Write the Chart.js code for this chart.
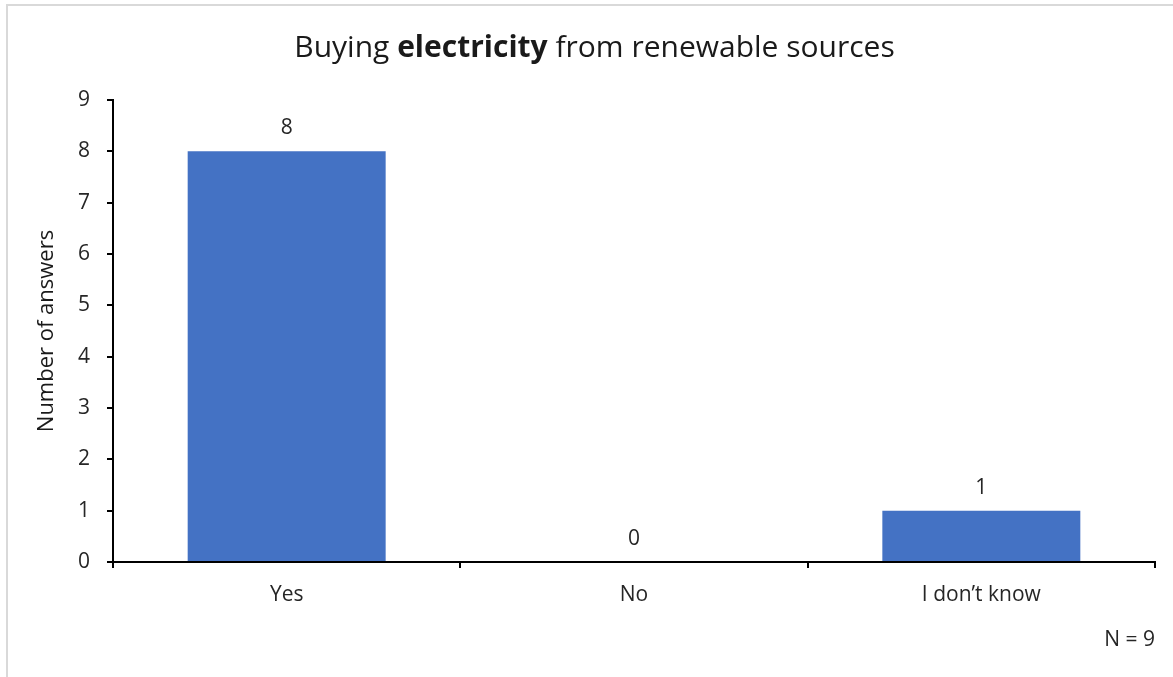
<!DOCTYPE html>
<html>
<head>
<meta charset="utf-8">
<script src="https://cdn.jsdelivr.net/npm/chart.js@4"></script>
<style>
  html, body { margin: 0; padding: 0; background: #fff; }
  #wrap { position: relative; width: 1173px; height: 677px; }
  #frame { position: absolute; left: 6px; top: 4px; right: 0; bottom: 0;
           border-left: 2px solid #d9d9d9; border-top: 2px solid #d9d9d9; }
  canvas { position: absolute; left: 0; top: 0; }
</style>
</head>
<body>
<div id="wrap">
  <div id="frame"></div>
  <canvas id="stats" width="1173" height="677"></canvas>
</div>
<script>
// Chart data
const categories = ["Yes", "No", "I don\u2019t know"];
const answers = [8, 0, 1];
const yTicks = [0, 1, 2, 3, 4, 5, 6, 7, 8, 9];
const sampleNote = "N = 9";

const FONT = "Open Sans";
const TEXT = "#262626";

// Title with one bold word, drawn in the top band
const titlePlugin = {
    id: 'mixedTitle',
    afterDraw(chart) {
        const ctx = chart.ctx;
        const parts = [
            ["Buying ", "normal"],
            ["electricity", "bold"],
            [" from renewable sources", "normal"]
        ];
        const size = 30;
        let total = 0;
        parts.forEach(p => {
            ctx.font = p[1] + " " + size + "px '" + FONT + "'";
            total += ctx.measureText(p[0]).width;
        });
        let x = chart.width / 2 + 8 - total / 2;
        ctx.save();
        ctx.fillStyle = "#1a1a1a";
        ctx.textBaseline = "middle";
        parts.forEach(p => {
            ctx.font = p[1] + " " + size + "px '" + FONT + "'";
            ctx.fillText(p[0], x, 48);
            x += ctx.measureText(p[0]).width;
        });
        // sample size note, bottom right
        ctx.font = "21px '" + FONT + "'";
        ctx.fillStyle = TEXT;
        ctx.textAlign = "right";
        ctx.fillText(sampleNote, chart.chartArea.right, 640);
        ctx.restore();
    }
};

// Value labels above each bar
const valueLabels = {
    id: 'valueLabels',
    afterDatasetsDraw(chart) {
        const ctx = chart.ctx;
        const meta = chart.getDatasetMeta(0);
        ctx.save();
        ctx.font = "21px '" + FONT + "'";
        ctx.fillStyle = TEXT;
        ctx.textAlign = "center";
        ctx.textBaseline = "middle";
        meta.data.forEach((bar, i) => {
            ctx.fillText(String(answers[i]), bar.x, bar.y - 23);
        });
        ctx.restore();
    }
};

new Chart(document.getElementById("stats"), {
    type: 'bar',
    data: {
        labels: categories,
        datasets: [{
            label: "Answers",
            data: answers,
            backgroundColor: "#4472C4",
            barPercentage: 0.57,
            categoryPercentage: 1.0
        }]
    },
    options: {
        responsive: false,
        animation: false,
        layout: { padding: { left: 32, top: 100, right: 18, bottom: 0 } },
        plugins: {
            legend: { display: false },
            tooltip: { enabled: false },
            title: { display: false }
        },
        scales: {
            x: {
                grid: { drawOnChartArea: false, drawTicks: true, tickLength: 6, color: "#000", lineWidth: 2 },
                border: { display: true, color: "#000", width: 2 },
                ticks: { color: TEXT, font: { family: FONT, size: 21 }, padding: 14 },
                afterFit(scale) { scale.height = 115; }
            },
            y: {
                min: 0,
                max: 9,
                afterBuildTicks(scale) { scale.ticks = yTicks.map(v => ({ value: v })); },
                grid: { drawOnChartArea: false, drawTicks: true, tickLength: 6, color: "#000", lineWidth: 2 },
                border: { display: true, color: "#000", width: 2 },
                ticks: { color: TEXT, font: { family: FONT, size: 21 }, padding: 17 },
                title: {
                    display: true,
                    text: "Number of answers",
                    color: "#1a1a1a",
                    font: { family: FONT, size: 22 },
                    padding: { top: 2, bottom: 4 }
                },
                afterFit(scale) { scale.width = 81; }
            }
        }
    },
    plugins: [titlePlugin, valueLabels]
});
</script>
</body>
</html>
